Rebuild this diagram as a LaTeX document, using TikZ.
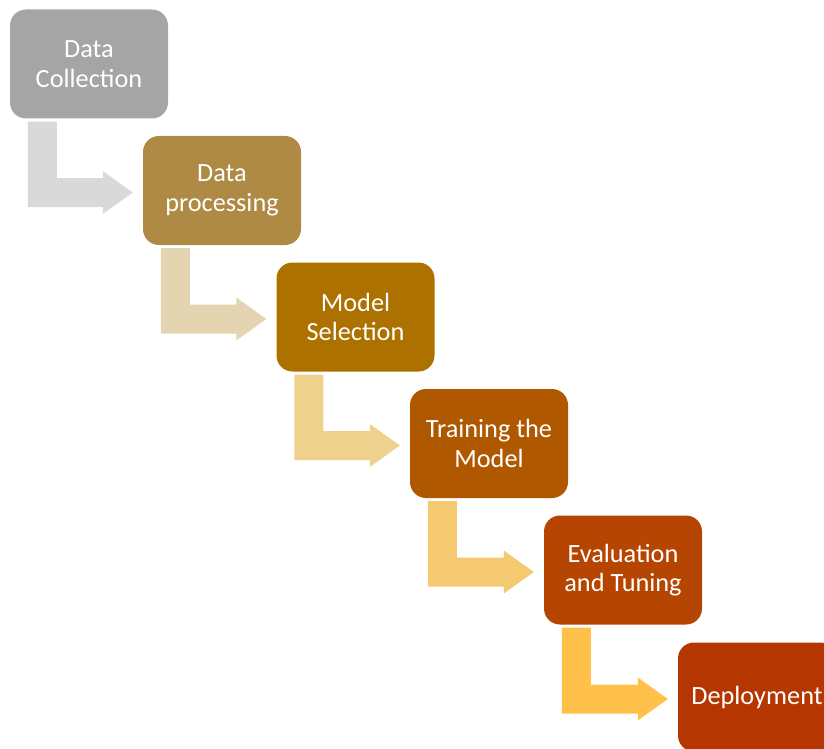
\documentclass[tikz,border=0pt]{standalone}
\usepackage{fontspec}
\setmainfont{Carlito}
\usepackage{xcolor}
\usetikzlibrary{calc}

\definecolor{stepA}{HTML}{A5A5A5}
\definecolor{stepB}{HTML}{AE8A45}
\definecolor{stepC}{HTML}{AD7100}
\definecolor{stepD}{HTML}{B05800}
\definecolor{stepE}{HTML}{B54500}
\definecolor{stepF}{HTML}{B53600}
\definecolor{bendA}{HTML}{D9D9D9}
\definecolor{bendB}{HTML}{E4D4B2}
\definecolor{bendC}{HTML}{EFD18E}
\definecolor{bendD}{HTML}{F5C96F}
\definecolor{bendE}{HTML}{FFC14A}

% bent arrow from the lower left corner of #1 into the west side of #2
\newcommand{\bentarrow}[3]{%
  \fill[#3] ($(#1.south west)+(18,3)$) coordinate (p) -- ++(29,0)
    |- ($(#2.west)+(-40,-12.5)$) -- ++(0,-7) -- ($(#2.west)+(-10,2)$)
    -- ($(#2.west)+(-40,23.5)$) -- ++(0,-7) -| (p) -- cycle;}

\begin{document}
\begin{tikzpicture}[x=1pt, y=-1pt,
  stepbox/.style={rectangle, rounded corners=16pt, minimum width=158pt, minimum height=109pt,
    inner sep=0pt, align=center, text=white, font=\fontsize{26.3}{29.5}\selectfont}
]
\useasboundingbox (0,0) rectangle (824,749);
\clip (0,0) rectangle (824,749);

% steps of the pipeline
\node[stepbox, fill=stepA] (collect) at (89,64) {Data\\Collection};
\node[stepbox, fill=stepB] (process) at (222,190.5) {Data\\processing};
\node[stepbox, fill=stepC] (select) at (355.5,317) {Model\\Selection};
\node[stepbox, fill=stepD] (train) at (489,443.5) {Training the\\Model};
\node[stepbox, fill=stepE] (tune) at (623,570) {Evaluation\\and Tuning};
\node[stepbox, fill=stepF] (deploy) at (757,697) {Deployment};

% arrows between the steps
\bentarrow{collect}{process}{bendA}
\bentarrow{process}{select}{bendB}
\bentarrow{select}{train}{bendC}
\bentarrow{train}{tune}{bendD}
\bentarrow{tune}{deploy}{bendE}

\end{tikzpicture}
\end{document}
